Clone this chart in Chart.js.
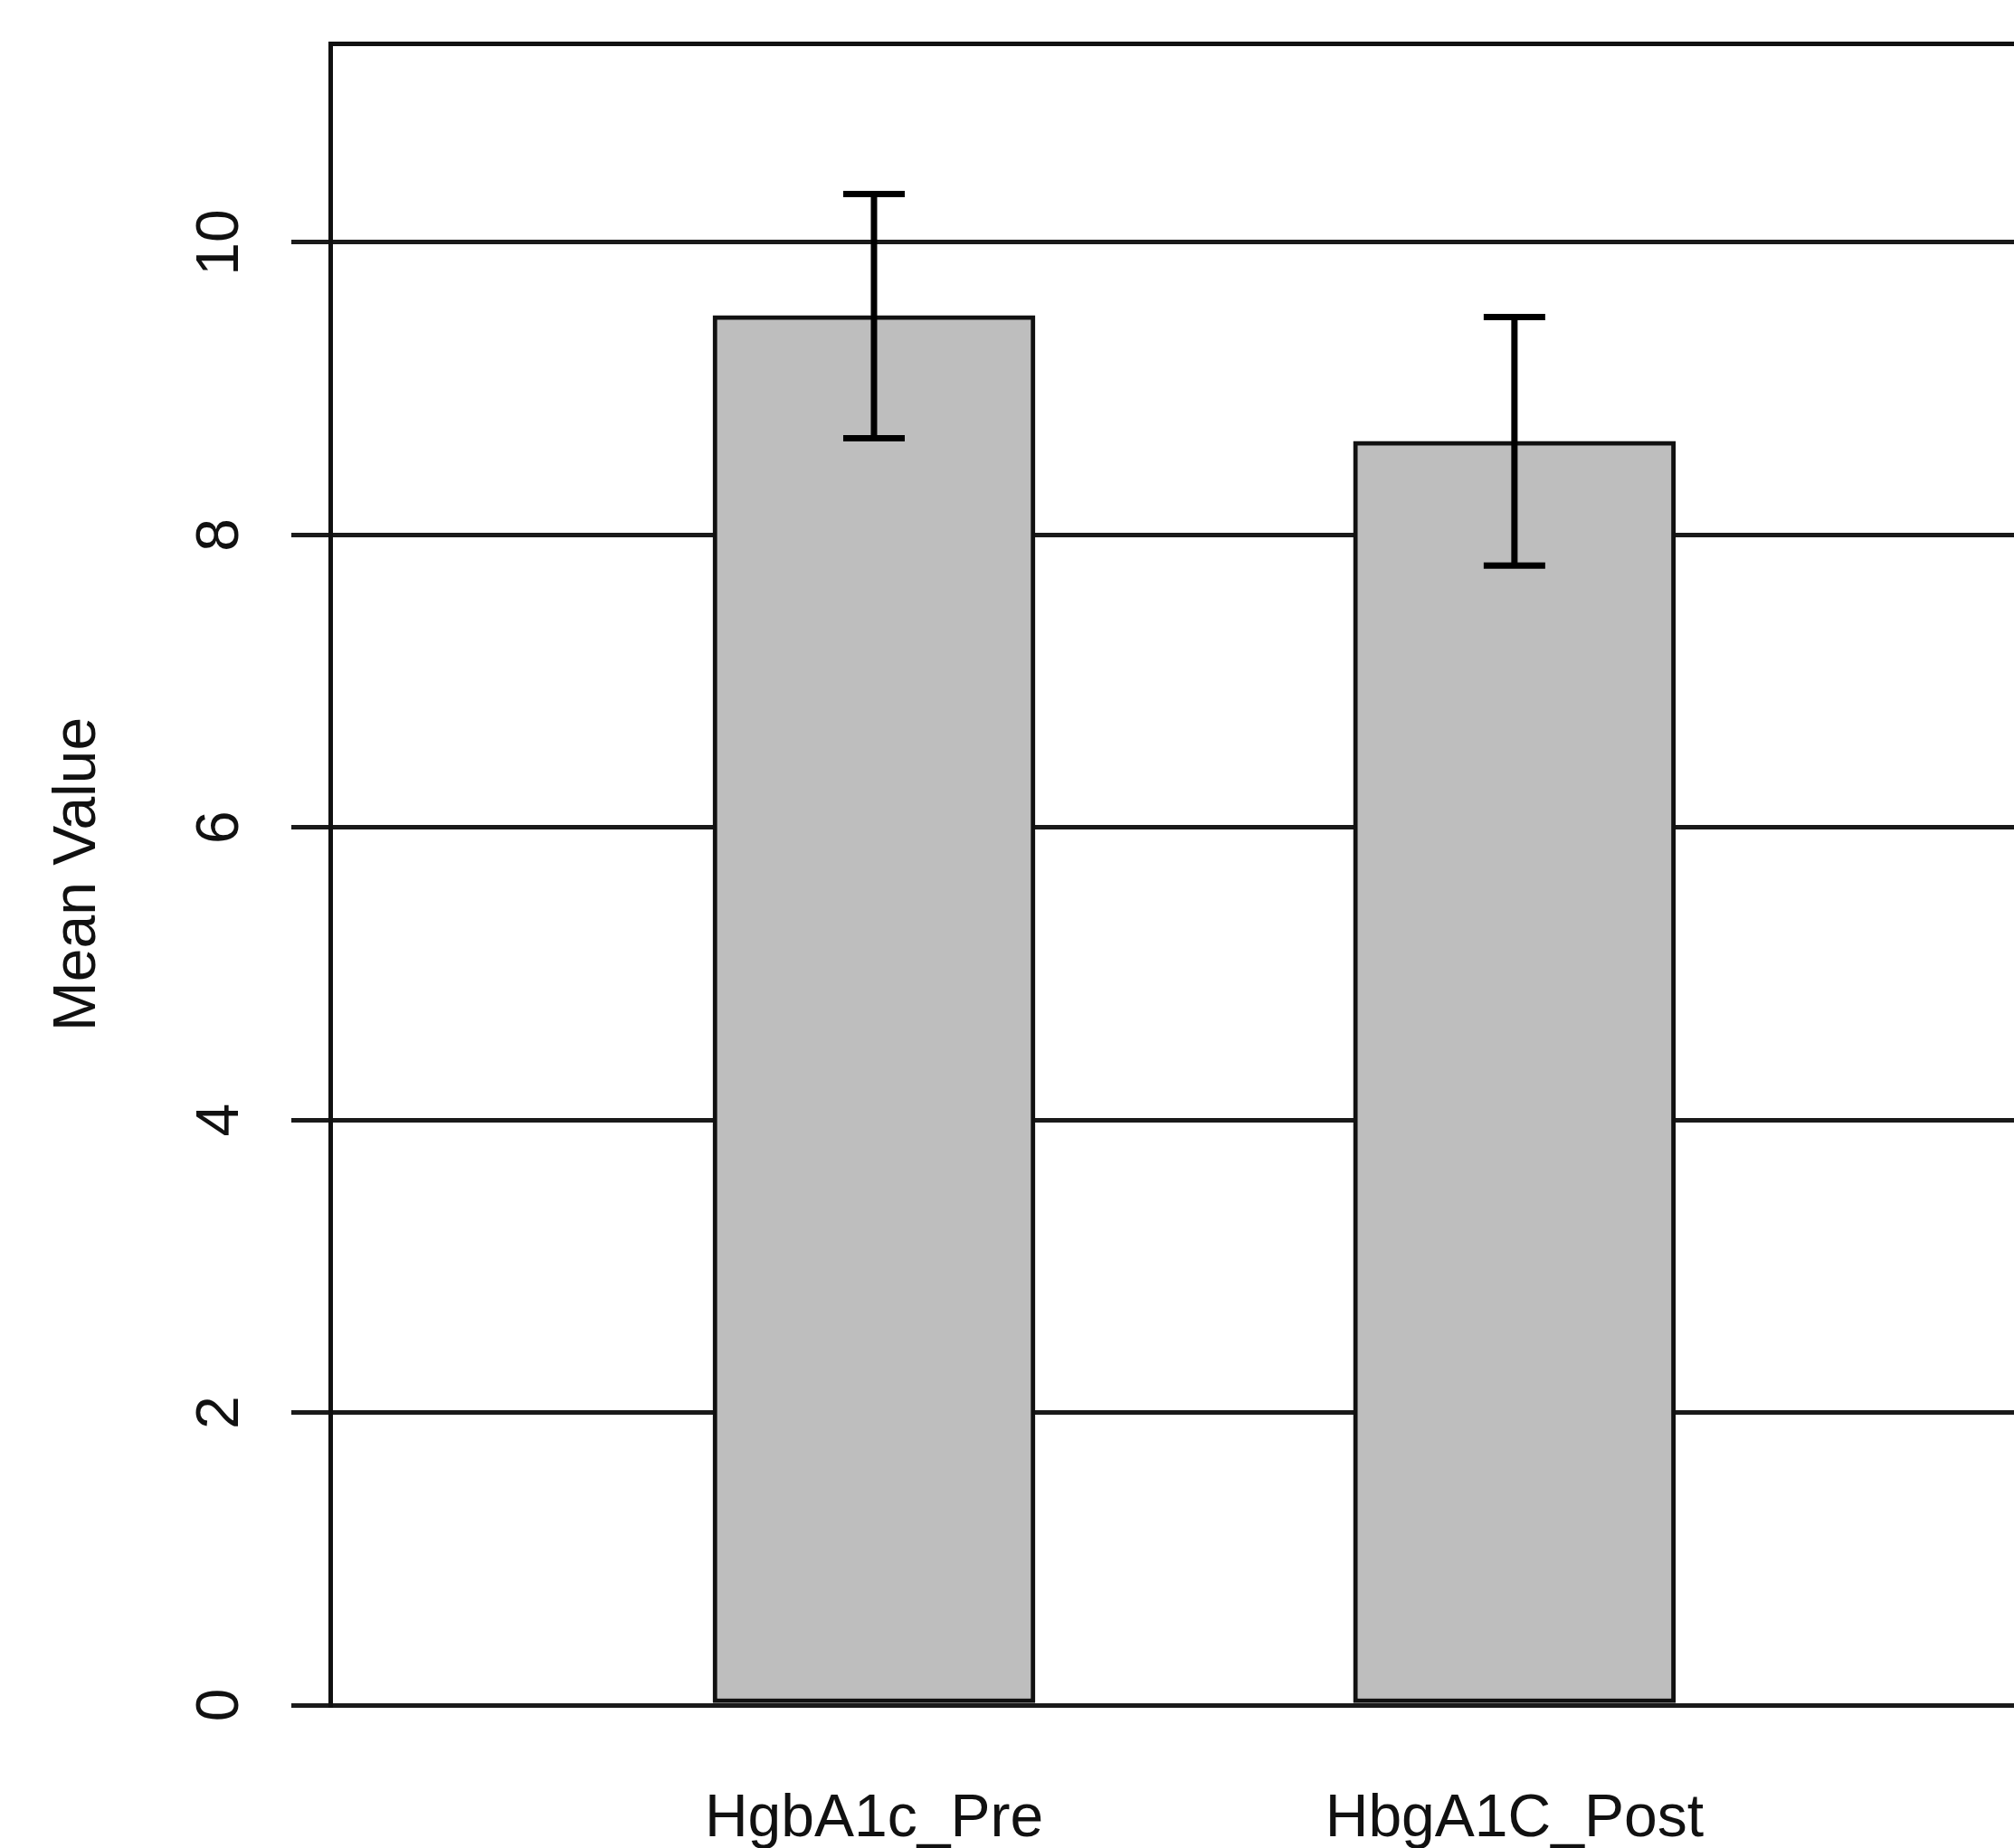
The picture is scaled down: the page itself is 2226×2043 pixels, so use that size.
<!DOCTYPE html>
<html>
<head>
<meta charset="UTF-8">
<title>Mean Value</title>
<script src="https://cdn.jsdelivr.net/npm/chart.js@4/dist/chart.umd.min.js"></script>
<style>
  html, body { margin: 0; padding: 0; background: #fff; }
</style>
</head>
<body>

	<canvas id="myChart" width="2226" height="2043"></canvas>

	<script>
		// data
		let labels = ['HgbA1c_Pre', 'HbgA1C_Post'];
		let means = [9.5, 8.64];
		let errLow = [8.66, 7.79];
		let errHigh = [10.33, 9.49];
		let yTicks = [0, 2, 4, 6, 8, 10];

		let barData = means.map(function(v, i) { return {x: i + 1, y: v}; });

		// error bars drawn after the bars, positions from the scales
		const errorBars = {
			id: 'errorBars',
			afterDatasetsDraw(chart) {
				const ctx = chart.ctx;
				const y = chart.scales.y;
				const meta = chart.getDatasetMeta(0);
				ctx.save();
				ctx.strokeStyle = '#000';
				ctx.lineWidth = 7;
				ctx.lineCap = 'butt';
				meta.data.forEach(function(bar, i) {
					const yHi = y.getPixelForValue(errHigh[i]);
					const yLo = y.getPixelForValue(errLow[i]);
					ctx.beginPath();
					ctx.moveTo(bar.x, yHi);
					ctx.lineTo(bar.x, yLo);
					ctx.moveTo(bar.x - 34, yHi);
					ctx.lineTo(bar.x + 34, yHi);
					ctx.moveTo(bar.x - 34, yLo);
					ctx.lineTo(bar.x + 34, yLo);
					ctx.stroke();
				});
				ctx.restore();
			}
		};

		Chart.defaults.font.family = '"Liberation Sans", Arial, sans-serif';
		Chart.defaults.color = '#111';

		new Chart('myChart', {
		  type: 'bar',
		  data: {
		    datasets: [{
		      data: barData,
		      xAxisID: 'x',
		      yAxisID: 'y',
		      backgroundColor: '#bebebe',
		      borderColor: '#111',
		      borderWidth: 5,
		      borderSkipped: false,
		      barThickness: 356
		    }]
		  },
		  options: {
		    responsive: false,
		    animation: false,
		    layout: {padding: {top: 48, left: 0, right: 0, bottom: 0}},
		    plugins: {legend: {display: false}, tooltip: {enabled: false}},
		    scales: {
		      x: {
		        type: 'linear',
		        position: 'bottom',
		        offset: false,
		        bounds: 'data',
		        min: 0.151,
		        max: 2.78,
		        grid: {display: false, drawTicks: false, offset: false},
		        border: {display: false},
		        afterBuildTicks: function(s) {
		          s.ticks = labels.map(function(l, i) { return {value: i + 1}; });
		        },
		        afterFit: function(s) {
		          s.height = 158;
		          s.paddingLeft = 0;
		          s.paddingRight = 0;
		        },
		        ticks: {
		          font: {size: 66},
		          padding: 87,
		          maxRotation: 0,
		          autoSkip: false,
		          callback: function(v) { return labels[v - 1]; }
		        }
		      },
		      x2: {
		        type: 'linear',
		        position: 'top',
		        offset: false,
		        grid: {display: false, drawTicks: false},
		        ticks: {display: false},
		        border: {display: true, color: '#111', width: 5},
		        afterFit: function(s) { s.height = 0; }
		      },
		      y: {
		        min: 0,
		        max: 11.36,
		        afterFit: function(s) {
		          s.width = 365;
		          s.paddingTop = 0;
		          s.paddingBottom = 0;
		        },
		        afterBuildTicks: function(s) {
		          s.ticks = yTicks.map(function(v) { return {value: v}; });
		        },
		        grid: {color: '#1a1a1a', lineWidth: 5, tickLength: 43, tickColor: '#1a1a1a'},
		        border: {display: true, color: '#111', width: 5},
		        ticks: {
		          font: {size: 66},
		          padding: 40,
		          minRotation: 90,
		          maxRotation: 90,
		          crossAlign: 'center'
		        },
		        title: {
		          display: true,
		          text: 'Mean Value',
		          font: {size: 66},
		          padding: {top: 47, bottom: 0}
		        }
		      }
		    }
		  },
		  plugins: [errorBars]
		});
	</script>
</body>
</html>
